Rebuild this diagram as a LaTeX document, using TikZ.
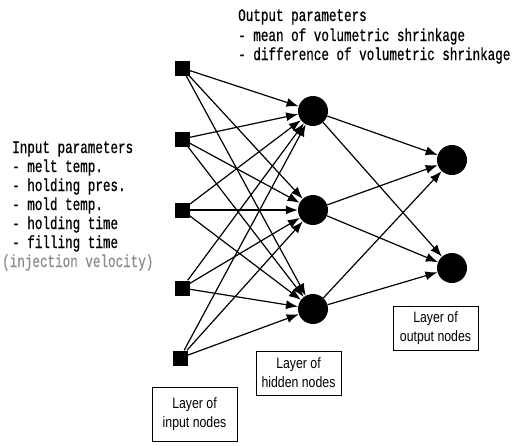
\documentclass[tikz,border=0pt]{standalone}
\usepackage{fontspec}
\setmainfont{Liberation Sans}
\newfontfamily\parfont[FakeStretch=0.72,FakeBold=0.6]{Liberation Mono}
\newfontfamily\boxfont[FakeStretch=0.82]{Liberation Sans}
\usetikzlibrary{arrows.meta}

\begin{document}
\begin{tikzpicture}[x=1pt,y=-1pt,
  inp/.style={shape=rectangle,fill=black,minimum size=15pt,inner sep=0pt},
  neuron/.style={shape=circle,fill=black,minimum size=30pt,inner sep=0pt},
  layerbox/.style={shape=rectangle,draw=black,line width=0.8pt,align=center,minimum width=85pt,minimum height=44pt,inner sep=2pt,font=\boxfont\fontsize{15}{19}\selectfont},
  partext/.style={anchor=base west,inner sep=0pt,font=\parfont\fontsize{17.5}{19}\selectfont},
  link/.style={-{Latex[length=12pt,width=9pt]},draw=black,line width=1.2pt}]
\useasboundingbox (0,0) rectangle (518,445);

\node[partext] (t0) at (12,153) {Input parameters};
\node[partext] (t1) at (12,172) {- melt temp.};
\node[partext] (t2) at (12,191) {- holding pres.};
\node[partext] (t3) at (12,210) {- mold temp.};
\node[partext] (t4) at (12,229) {- holding time};
\node[partext] (t5) at (12,248) {- filling time};
\node[partext,text=black!45] (t6) at (2,267) {(injection velocity)};

\node[partext] (u0) at (238,21) {Output parameters};
\node[partext] (u1) at (238,41) {- mean of volumetric shrinkage};
\node[partext] (u2) at (238,60) {- difference of volumetric shrinkage};

\node[inp] (i1) at (182,68) {};
\node[inp] (i2) at (182,139) {};
\node[inp] (i3) at (182,210) {};
\node[inp] (i4) at (182,288) {};
\node[inp] (i5) at (180,358) {};
\node[neuron] (h1) at (313,111) {};
\node[neuron] (h2) at (313,210) {};
\node[neuron] (h3) at (313,309) {};
\node[neuron] (o1) at (452,160) {};
\node[neuron] (o2) at (452,268) {};

\path [link] (i1) edge (h1);
\path [link] (i1) edge (h2);
\path [link] (i1) edge (h3);
\path [link] (i2) edge (h1);
\path [link] (i2) edge (h2);
\path [link] (i2) edge (h3);
\path [link] (i3) edge (h1);
\path [link] (i3) edge (h2);
\path [link] (i3) edge (h3);
\path [link] (i4) edge (h1);
\path [link] (i4) edge (h2);
\path [link] (i4) edge (h3);
\path [link] (i5) edge (h1);
\path [link] (i5) edge (h2);
\path [link] (i5) edge (h3);
\path [link] (h1) edge (o1);
\path [link] (h1) edge (o2);
\path [link] (h2) edge (o1);
\path [link] (h2) edge (o2);
\path [link] (h3) edge (o1);
\path [link] (h3) edge (o2);

\node[layerbox,minimum height=54pt] (b1) at (194.5,414) {Layer of\\input nodes};
\node[layerbox] (b2) at (298.5,373) {Layer of\\hidden nodes};
\node[layerbox] (b3) at (435.5,328) {Layer of\\output nodes};
\end{tikzpicture}
\end{document}
